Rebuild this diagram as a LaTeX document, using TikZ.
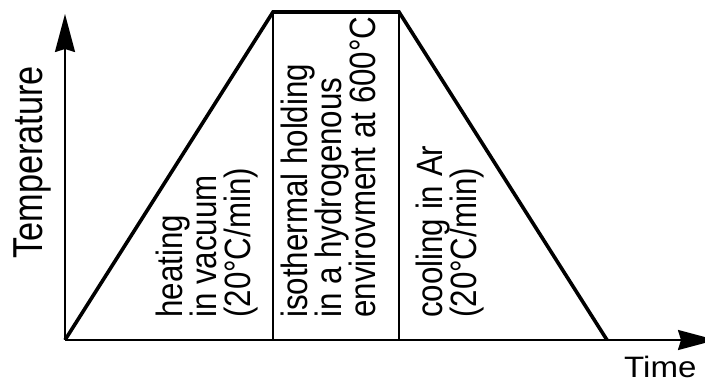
\documentclass[tikz,border=0pt]{standalone}
\usepackage{fontspec}
\usepackage{graphicx}
\setmainfont{Liberation Sans}
\usetikzlibrary{arrows.meta}
\newcommand\vstretch[1]{\scalebox{1}[1.17]{#1}}
\newcommand\tstretch[1]{\scalebox{1}[1.22]{#1}}
\newcommand\hstretch[1]{\scalebox{1.12}[1]{#1}}
\begin{document}
\begin{tikzpicture}[x=1pt,y=1pt,
  axis/.style={line width=2pt, -{Stealth[length=38pt,width=20pt,inset=3pt]}},
  prof/.style={line width=3.6pt, line join=miter},
  divider/.style={line width=1.2pt},
  lbl/.style={inner sep=0pt, anchor=base west, rotate=90, font=\fontsize{31.3}{31.3}\selectfont},
  axlbl/.style={inner sep=0pt, anchor=base west}]
\useasboundingbox (0,0) rectangle (705,388);
\coordinate (O) at (65,48);
\coordinate (ytip) at (65,374);
\coordinate (xtip) at (716,48);
\coordinate (A) at (273,376);
\coordinate (B) at (399,376);
\coordinate (C) at (607,48);
\coordinate (Ab) at (273,48);
\coordinate (Bb) at (399,48);
% dividers
\draw[divider] (A) -- (Ab);
\draw[divider] (B) -- (Bb);
% axes
\draw[axis] (O) -- (ytip);
\draw[axis] (O) -- (xtip);
% profile
\draw[prof] (O) -- (A) -- (B) -- (C);
% axis labels
\node[axlbl, rotate=90, font=\fontsize{34.3}{34.3}\selectfont] (ylab) at (42.5,129) {\tstretch{Temperature}};
\node[axlbl, font=\fontsize{29.5}{29.5}\selectfont] (xlab) at (624,10) {\hstretch{Time}};
% stage labels
\node[lbl] (h1) at (182,70) {\vstretch{heating}};
\node[lbl] (h2) at (216,70) {\vstretch{in vacuum}};
\node[lbl] (h3) at (250,70) {\vstretch{(20°C/min)}};
\node[lbl] (i1) at (307,70) {\vstretch{isothermal holding}};
\node[lbl] (i2) at (341,70) {\vstretch{in a hydrogenous}};
\node[lbl] (i3) at (375,70) {\vstretch{envirovment at 600°C}};
\node[lbl] (c1) at (442,70) {\vstretch{cooling in Ar}};
\node[lbl] (c2) at (476,70) {\vstretch{(20°C/min)}};
\end{tikzpicture}
\end{document}
